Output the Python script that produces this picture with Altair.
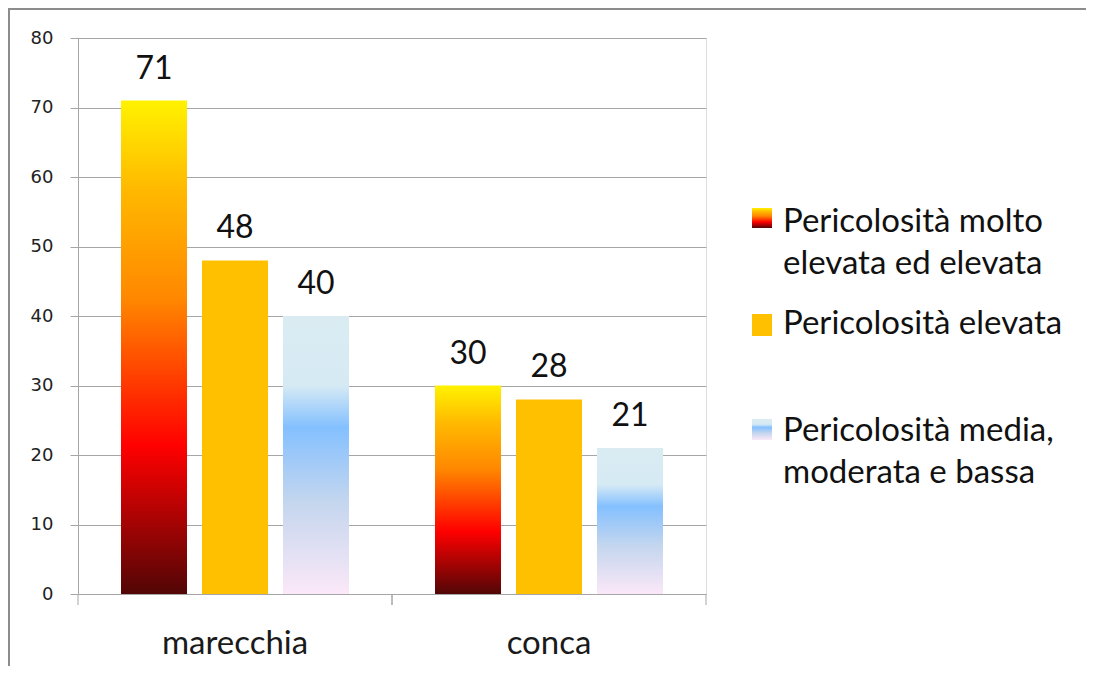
import altair as alt
import pandas as pd

basins = ["marecchia", "conca"]
series = ["molto_elevata", "elevata", "media"]
values_molto = [71, 30]
values_elevata = [48, 28]
values_media = [40, 21]

legend_labels = [
    "Pericolosità molto\nelevata ed elevata",
    "Pericolosità elevata",
    "Pericolosità media,\nmoderata e bassa",
]

rows = []
for s, vals in zip(series, [values_molto, values_elevata, values_media]):
    for b, v in zip(basins, vals):
        rows.append({"basin": b, "series": s, "value": v})
df = pd.DataFrame(rows)

grad_fire = alt.Gradient(
    gradient="linear", x1=0, x2=0, y1=1, y2=0,
    stops=[
        alt.GradientStop(offset=0, color="#520606"),
        alt.GradientStop(offset=0.3, color="#ff0000"),
        alt.GradientStop(offset=0.6, color="#ff8800"),
        alt.GradientStop(offset=0.82, color="#ffb900"),
        alt.GradientStop(offset=1, color="#fff200"),
    ],
)
grad_blue = alt.Gradient(
    gradient="linear", x1=0, x2=0, y1=1, y2=0,
    stops=[
        alt.GradientStop(offset=0, color="#fbe8f8"),
        alt.GradientStop(offset=0.33, color="#c4d6ee"),
        alt.GradientStop(offset=0.6, color="#84c0ff"),
        alt.GradientStop(offset=0.75, color="#d6eaf4"),
        alt.GradientStop(offset=1, color="#daecf2"),
    ],
)
solid = "#ffc000"
fills = [grad_fire, solid, grad_blue]

W, H = 628, 556
FONT = "Lato"
GRID = "#a6a6a6"

xscale = alt.Scale(domain=basins, paddingInner=0, paddingOuter=0)
xenc = alt.X("basin:N", sort=basins, scale=xscale, axis=None)
yenc = alt.Y("value:Q",
             scale=alt.Scale(domain=[0, 80], nice=False),
             axis=alt.Axis(title=None, values=list(range(0, 81, 10)), grid=True))
xoff = alt.XOffset("series:N",
                   scale=alt.Scale(domain=series, paddingInner=0.185, paddingOuter=0.531))

base = alt.Chart(df)
layers = []
for s, f in zip(series, fills):
    layers.append(
        base.transform_filter(alt.datum.series == s)
        .mark_bar(color=f)
        .encode(x=xenc, y=yenc, xOffset=xoff)
    )

labels = base.mark_text(font=FONT, fontSize=32, baseline="alphabetic", dy=-22,
                        color="#111111").encode(
    x=xenc, y=yenc, xOffset=xoff, text="value:Q")

tick_df = pd.DataFrame({"basin": basins})
ticks0 = alt.Chart(tick_df).mark_rule(color=GRID).encode(
    x=alt.X("basin:N", sort=basins, bandPosition=0, axis=None),
    y=alt.value(H), y2=alt.value(H + 11))
ticks1 = alt.Chart(tick_df).mark_rule(color=GRID).encode(
    x=alt.X("basin:N", sort=basins, bandPosition=1, axis=None),
    y=alt.value(H), y2=alt.value(H + 11))
xlabels = alt.Chart(tick_df).mark_text(font=FONT, fontSize=33, baseline="alphabetic",
                                        color="#1a1a1a").encode(
    x=alt.X("basin:N", sort=basins, bandPosition=0.5, axis=None),
    y=alt.value(H + 60), text="basin:N")

# legend (decoration)
leg_df = pd.DataFrame({"label": legend_labels})
leg_layers = []
sym_y = [(170, 190), (276, 298), (381, 402)]
txt_y = [194, 296, 403]
for i, (f, (y1, y2), ty) in enumerate(zip(fills, sym_y, txt_y)):
    one = alt.Chart(leg_df.iloc[[i]])
    leg_layers.append(one.mark_rect(color=f).encode(
        x=alt.value(674), x2=alt.value(694), y=alt.value(y1), y2=alt.value(y2)))
    leg_layers.append(one.mark_text(font=FONT, fontSize=33, align="left",
                                    baseline="alphabetic", lineBreak="\n",
                                    lineHeight=42, color="#111111").encode(
        x=alt.value(705), y=alt.value(ty), text="label:N"))

border = alt.Chart(tick_df.iloc[[0]]).mark_rect(
    fill=None, stroke="#8c8c8c", strokeWidth=2).encode(
    x=alt.value(-69), x2=alt.value(1200), y=alt.value(-29), y2=alt.value(800))

chart = alt.layer(*layers, labels, border, ticks0, ticks1, xlabels, *leg_layers).properties(
    width=W, height=H,
    autosize=alt.AutoSizeParams(type="none"),
    padding={"left": 70, "top": 30, "right": 380, "bottom": 72},
).configure_view(stroke=None).configure(background="white").configure_axisY(
    gridColor=GRID, domainColor=GRID, tickColor=GRID, tickSize=8,
    labelFont="DejaVu Sans", labelFontSize=18, labelColor="#222222",
    labelPadding=17)

chart.save("out.html", embed_options={"renderer": "svg", "actions": False})
